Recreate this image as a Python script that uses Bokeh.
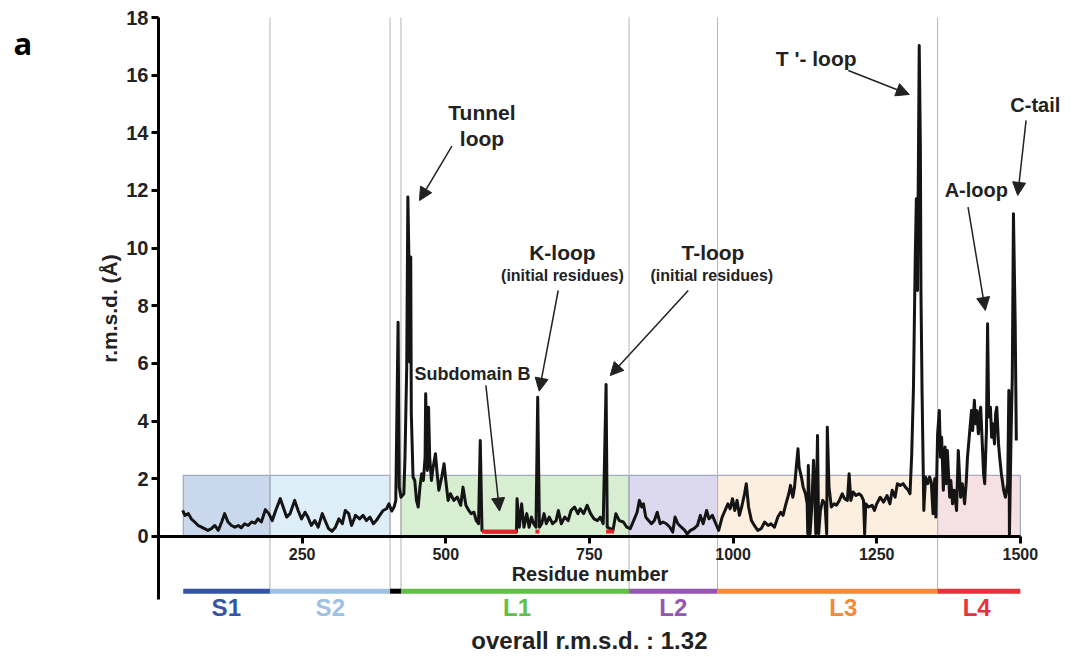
from bokeh.plotting import figure
from bokeh.models import Range1d, FixedTicker, Label, Arrow, NormalHead
from bokeh.embed import file_html
from bokeh.resources import INLINE

# ---------------- data ----------------
residue = [42, 46, 52, 57, 63, 69, 75, 80, 86, 92, 98, 104, 110, 115, 121, 127, 133, 139, 144, 150,
           156, 162, 168, 173, 179, 186, 192, 198, 204, 212, 217, 223, 229, 237, 243, 249, 255, 260,
           266, 272, 278, 285, 291, 296, 302, 308, 314, 320, 325, 331, 336, 343, 350, 356, 362, 368,
           374, 379, 385, 391, 397, 401, 406, 410, 413, 417, 419, 422, 427, 429, 432, 434, 436, 437,
           439, 440, 443, 446, 449, 452, 455, 458, 461, 464, 465, 468, 470, 472, 475, 478, 482, 485,
           488, 493, 497, 500, 504, 508, 514, 520, 526, 530, 535, 540, 544, 549, 553, 557, 560, 563,
           570, 580, 590, 600, 610, 620, 623, 624, 628, 632, 636, 641, 645, 649, 653, 657, 660, 663,
           667, 671, 675, 680, 686, 692, 696, 701, 707, 713, 718, 724, 730, 734, 740, 746, 752, 758,
           764, 769, 774, 779, 781, 786, 791, 796, 802, 809, 815, 821, 827, 833, 837, 841, 844, 848,
           853, 858, 863, 868, 873, 878, 884, 890, 895, 899, 904, 910, 916, 920, 926, 932, 938, 943,
           948, 954, 958, 964, 970, 975, 981, 986, 991, 995, 999, 1003, 1007, 1011, 1015, 1020, 1023,
           1027, 1032, 1037, 1043, 1049, 1055, 1061, 1066, 1072, 1078, 1083, 1087, 1092, 1097, 1100,
           1104, 1107, 1110, 1113, 1115, 1119, 1122, 1126, 1129, 1130, 1131, 1134, 1137, 1140, 1142,
           1144, 1147, 1149, 1152, 1156, 1160, 1163, 1164, 1167, 1171, 1176, 1180, 1185, 1190, 1194,
           1199, 1202, 1205, 1209, 1214, 1219, 1223, 1227, 1229, 1231, 1236, 1242, 1246, 1250, 1256,
           1262, 1268, 1273, 1277, 1282, 1286, 1291, 1296, 1300, 1305, 1308, 1311, 1314, 1317, 1319,
           1321, 1324, 1326, 1327, 1329, 1332, 1335, 1339, 1342, 1345, 1348, 1351, 1353, 1356, 1359,
           1361, 1363, 1366, 1369, 1371, 1373, 1377, 1379, 1382, 1385, 1389, 1392, 1396, 1399, 1403,
           1406, 1408, 1412, 1415, 1417, 1420, 1422, 1424, 1427, 1429, 1431, 1434, 1436, 1438, 1441,
           1443, 1445, 1448, 1450, 1452, 1455, 1457, 1459, 1462, 1464, 1467, 1471, 1474, 1478, 1480,
           1481, 1484, 1486, 1488, 1491, 1493]
rmsd = [0.90, 0.73, 0.79, 0.61, 0.50, 0.38, 0.32, 0.27, 0.21, 0.27, 0.38, 0.21, 0.50, 0.79, 0.50, 0.38,
        0.32, 0.38, 0.30, 0.44, 0.38, 0.50, 0.46, 0.61, 0.50, 0.93, 0.79, 0.55, 0.90, 1.31, 1.02, 0.67,
        0.79, 1.25, 0.90, 0.61, 0.84, 0.67, 0.38, 0.55, 0.32, 0.79, 0.50, 0.27, 0.18, 0.32, 0.61, 0.44,
        0.90, 0.79, 0.38, 0.73, 0.61, 0.73, 0.55, 0.67, 0.44, 0.55, 0.73, 0.90, 0.96, 1.13, 0.88, 1.02,
        1.25, 7.43, 1.71, 1.36, 1.48, 2.75, 5.87, 11.77, 9.46, 6.05, 9.69, 4.26, 2.06, 1.94, 1.25, 1.02,
        1.71, 2.17, 1.94, 2.75, 4.95, 2.29, 4.48, 2.75, 1.94, 2.40, 2.87, 2.17, 1.60, 2.06, 2.52, 1.94,
        1.25, 1.48, 1.25, 1.36, 1.08, 1.71, 1.08, 0.90, 0.79, 0.84, 0.55, 0.44, 3.33, 0.21, 0.15, 0.15,
        0.15, 0.15, 0.15, 0.15, 0.15, 1.31, 0.32, 1.13, 0.32, 0.79, 0.32, 0.67, 0.44, 0.32, 4.83, 0.32,
        0.44, 0.79, 0.44, 0.67, 0.44, 0.55, 0.90, 0.44, 0.67, 0.55, 0.90, 1.02, 0.79, 0.96, 0.79, 1.08,
        0.79, 0.61, 0.55, 0.67, 0.44, 5.27, 0.32, 0.27, 0.21, 0.79, 0.55, 0.50, 0.32, 0.27, 0.55, 0.84,
        1.25, 1.02, 1.13, 0.67, 0.55, 0.44, 0.55, 0.84, 0.44, 0.50, 0.44, 0.32, 0.15, 0.67, 0.44, 0.32,
        0.21, 0.09, 0.21, 0.27, 0.38, 0.73, 0.44, 0.90, 0.61, 0.73, 0.44, 0.21, 0.67, 0.90, 1.13, 0.96,
        1.31, 0.90, 1.25, 0.73, 1.02, 1.48, 1.83, 1.02, 0.55, 0.38, 0.21, 0.27, 0.50, 0.38, 0.44, 0.32,
        0.67, 0.84, 0.73, 1.13, 1.48, 1.77, 1.36, 1.71, 2.40, 3.04, 2.40, 2.06, 1.71, 1.48, 1.13, 0.09,
        2.46, 0.09, 1.02, 2.64, 1.71, 0.09, 3.50, 0.09, 0.90, 1.25, 1.13, 0.09, 3.79, 1.71, 1.02, 1.13,
        1.08, 1.25, 1.48, 1.31, 1.25, 2.17, 1.25, 1.54, 1.42, 1.48, 1.42, 1.25, 0.09, 1.13, 1.02, 1.08,
        0.90, 1.13, 1.36, 1.19, 1.42, 1.13, 1.60, 1.36, 1.83, 1.77, 1.83, 1.71, 1.60, 1.48, 2.87, 5.18,
        9.57, 11.71, 8.53, 17.03, 13.56, 8.53, 4.95, 0.90, 2.06, 1.83, 2.06, 1.88, 0.79, 2.00, 0.67, 3.56,
        4.37, 2.75, 3.44, 1.60, 3.10, 1.83, 2.98, 1.36, 1.94, 1.13, 1.60, 0.90, 2.98, 1.36, 1.83, 1.13,
        1.94, 2.75, 3.67, 4.37, 3.67, 4.72, 3.91, 4.37, 3.56, 4.26, 4.48, 3.10, 2.17, 1.83, 3.67, 7.38,
        4.14, 4.48, 3.44, 3.91, 3.21, 4.26, 4.48, 3.21, 2.75, 2.17, 1.60, 1.36, 1.83, 5.06, 0.03, 3.67,
        5.53, 11.19, 7.43, 3.33]

domain_names = ["S1", "S2", "L1", "L2", "L3", "L4"]
domain_start = [43, 194, 422, 819, 973, 1356]
domain_end = [194, 403, 819, 973, 1356, 1500]
domain_box_colors = ["#c9d8ec", "#ddeef9", "#d7eed1", "#dcd9ef", "#fdefdf", "#f5e0e3"]
domain_bar_colors = ["#3554a5", "#9dc1e5", "#62bf46", "#9556b1", "#f18a3b", "#e3323b"]
domain_label_x = [118, 299, 624, 896, 1192, 1424]
linker_start = [403]
linker_end = [422]
separators = [194, 403, 422, 819, 973, 1356]
highlight_start = [563, 656, 779]
highlight_end = [624, 663, 793]
x_ticks = [250, 500, 750, 1000, 1250, 1500]
y_ticks = [0, 2, 4, 6, 8, 10, 12, 14, 16, 18]

FONT = "Liberation Sans"

p = figure(width=1075, height=657, x_range=Range1d(-275, 1596), y_range=Range1d(-4.2, 18.59),
           output_backend="svg", toolbar_location=None,
           min_border_left=0, min_border_right=0, min_border_top=0, min_border_bottom=0)
p.outline_line_color = None
p.grid.visible = False
p.background_fill_color = "white"

# domain boxes
p.quad(left=domain_start, right=domain_end, bottom=0, top=2.12,
       fill_color=domain_box_colors, fill_alpha=1.0, line_color="#8f9bb8", line_width=1)

# separators
p.segment(x0=separators, y0=[-1.9] * len(separators), x1=separators, y1=[18] * len(separators),
          line_color="#b5b5b5", line_width=1)

# domain bars
p.segment(x0=domain_start, y0=[-1.9] * 6, x1=domain_end, y1=[-1.9] * 6,
          line_color=domain_bar_colors, line_width=5, line_cap="butt")
p.segment(x0=linker_start, y0=[-1.9], x1=linker_end, y1=[-1.9],
          line_color="black", line_width=5, line_cap="butt")

# rmsd line
p.line(residue, rmsd, line_color="#141414", line_width=3, line_join="round")

# highlighted residues
p.segment(x0=highlight_start, y0=[0.17] * 3, x1=highlight_end, y1=[0.17] * 3,
          line_color="#e8222b", line_width=4, line_cap="butt")

# axes
xa = p.xaxis[0]
xa.fixed_location = 0
xa.bounds = (0, 1500)
xa.ticker = FixedTicker(ticks=x_ticks)
xa.axis_line_width = 3
xa.major_tick_line_width = 3
xa.major_tick_out = 7
xa.major_tick_in = 0
xa.minor_tick_line_color = None
xa.major_label_text_font = FONT
xa.major_label_text_font_style = "bold"
xa.major_label_text_font_size = "16px"
xa.major_label_text_color = "#222222"
xa.major_label_standoff = 5

ya = p.yaxis[0]
ya.fixed_location = 0
ya.bounds = (-2.2, 18)
ya.ticker = FixedTicker(ticks=y_ticks)
ya.axis_line_width = 3
ya.major_tick_line_width = 3
ya.major_tick_out = 7
ya.major_tick_in = 0
ya.minor_tick_line_color = None
ya.major_label_text_font = FONT
ya.major_label_text_font_style = "bold"
ya.major_label_text_font_size = "20px"
ya.major_label_text_color = "#222222"
ya.major_label_standoff = 3
ya.axis_label = "r.m.s.d. (Å)"
ya.axis_label_text_font = FONT
ya.axis_label_text_font_style = "bold"
ya.axis_label_text_font_size = "21px"
ya.axis_label_text_color = "#222222"
ya.axis_label_standoff = 2


def lab(x, y, t, size, color="#222222", font=FONT):
    p.add_layout(Label(x=x, y=y, text=t, text_align="center", text_baseline="middle",
                       text_font=font, text_font_size=size, text_font_style="bold",
                       text_color=color))


def arr(x0, y0, x1, y1):
    p.add_layout(Arrow(x_start=x0, y_start=y0, x_end=x1, y_end=y1, line_width=1.5,
                       line_color="#222222",
                       end=NormalHead(size=13, fill_color="#222222", line_color="#222222")))


# domain labels
for name, xc, col in zip(domain_names, domain_label_x, domain_bar_colors):
    lab(xc, -2.46, name, "24px", col)

lab(751, -1.3, "Residue number", "20px")
lab(750, -3.62, "overall r.m.s.d. : 1.32", "24px")
lab(-236, 17.13, "a", "31px", "black", "Open Sans")

# annotations
lab(563, 14.70, "Tunnel", "21px")
lab(563, 13.81, "loop", "21px")
arr(510.6, 13.54, 454.2, 11.65)

lab(703, 9.86, "K-loop", "21px")
lab(703, 9.05, "(initial residues)", "16px")
arr(695.7, 8.53, 662.6, 5.04)

lab(965, 9.86, "T-loop", "21px")
lab(963, 9.05, "(initial residues)", "16px")
arr(922, 8.53, 786.2, 5.58)

lab(546.5, 5.62, "Subdomain B", "18px")
arr(569.8, 5.24, 593.5, 0.88)

lab(1144.7, 16.58, "T '- loop", "21px")
arr(1200.6, 16.16, 1306.7, 15.33)

lab(1423.4, 12.0, "A-loop", "20px")
arr(1409, 11.42, 1439, 7.84)

lab(1526, 14.95, "C-tail", "20px")
arr(1510, 14.43, 1495.4, 11.83)

open("out.html", "w").write(file_html(p, INLINE))
